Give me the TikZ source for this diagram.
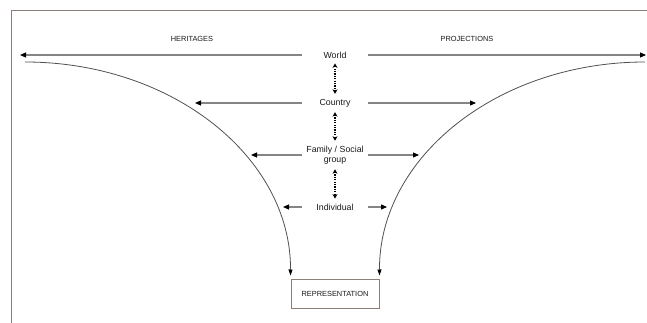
\documentclass[tikz,border=0pt]{standalone}
\usepackage{fontspec}
\setmainfont{Liberation Sans}
\usetikzlibrary{arrows.meta}
\definecolor{framec}{HTML}{8C807A}
\definecolor{linec}{HTML}{858585}
\definecolor{curvec}{HTML}{505050}
\begin{document}
\begin{tikzpicture}[x=1pt,y=-1pt,
  lvl/.style={minimum width=66pt,inner xsep=0pt,inner ysep=5pt,align=center,
    font=\fontsize{8.8}{10}\selectfont,text=black!90},
  captext/.style={font=\fontsize{7.4}{9}\selectfont,text=black!90},
  harrow/.style={draw=linec,line width=1.1pt,-{Triangle[length=6pt,width=5pt,color=black]}},
  darrow/.style={draw=black,line width=1.3pt,dash pattern=on 1.2pt off 1.2pt,
    {Stealth[length=4.5pt,width=5pt,color=black]}-{Stealth[length=4.5pt,width=5pt,color=black]}},
  curve/.style={draw=curvec,line width=0.8pt,shorten >=3pt,-{Triangle[length=6pt,width=4pt,color=black]}},
  framel/.style={draw=framec,line width=1pt}]
\useasboundingbox (0,0) rectangle (647,323);
% frame
\coordinate (f1) at (11,323);
\coordinate (f2) at (11,11);
\coordinate (f3) at (647,11);
\draw[framel] (f1) -- (f2) -- (f3);
% titles
\node[captext] (her) at (192,39) {HERITAGES};
\node[captext] (proj) at (467,39) {PROJECTIONS};
% levels
\node[lvl] (world) at (335,55) {World};
\node[lvl] (country) at (335,103) {Country};
\node[lvl] (family) at (335,155) {Family / Social\\group};
\node[lvl] (indiv) at (335,207) {Individual};
% representation
\node[draw=framec,line width=1pt,minimum width=88pt,minimum height=29pt,inner sep=0pt,
  font=\fontsize{7.4}{9}\selectfont,text=black!90] (rep) at (335,293.5) {REPRESENTATION};
% arrow ends
\coordinate (wl) at (20,55);
\coordinate (wr) at (646,55);
\coordinate (cl) at (195,103);
\coordinate (cr) at (476,103);
\coordinate (fl) at (251,155);
\coordinate (fr) at (419,155);
\coordinate (il) at (283,207);
\coordinate (ir) at (387,207);
\draw[harrow] (world.west) -- (wl);
\draw[harrow] (world.east) -- (wr);
\draw[harrow] (country.west) -- (cl);
\draw[harrow] (country.east) -- (cr);
\draw[harrow] (family.west) -- (fl);
\draw[harrow] (family.east) -- (fr);
\draw[harrow] (indiv.west) -- (il);
\draw[harrow] (indiv.east) -- (ir);
% dotted double arrows
\draw[darrow] (world.south) -- (country.north);
\draw[darrow] (country.south) -- (family.north);
\draw[darrow] (family.south) -- (indiv.north);
% curves
\coordinate (lc) at (25,62);
\coordinate (rc) at (645,62);
\draw[curve] (lc) .. controls (172,62) and (291,157) .. (rep.north west);
\draw[curve] (rc) .. controls (498,62) and (379,157) .. (rep.north east);
\end{tikzpicture}
\end{document}
